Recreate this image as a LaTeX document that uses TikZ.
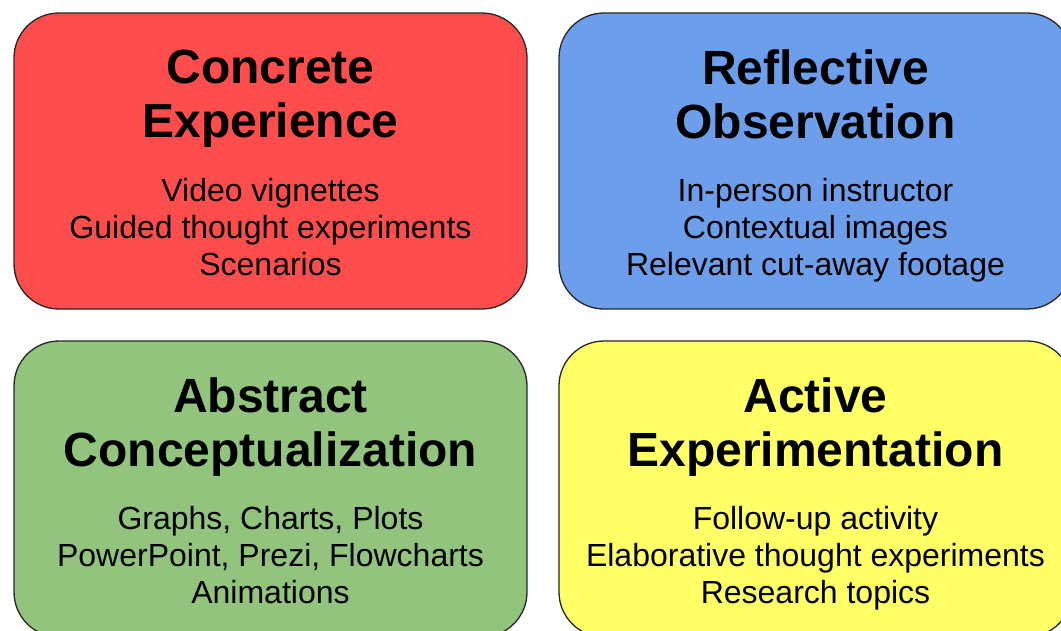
\documentclass[tikz,border=0pt]{standalone}
\usepackage{fontspec}
\setmainfont{Liberation Sans}
\usepackage{xcolor}
\usetikzlibrary{positioning}

\definecolor{cered}{HTML}{FF4D4D}
\definecolor{roblue}{HTML}{6D9EEB}
\definecolor{acgreen}{HTML}{93C47D}
\definecolor{aeyellow}{HTML}{FFFF66}

\begin{document}
\begin{tikzpicture}[
    x=1pt, y=-1pt,
    stage/.style={
        rectangle,
        rounded corners=45pt,
        draw=black!85,
        line width=1.3pt,
        minimum width=513pt,
        minimum height=296pt,
        inner sep=0pt
    },
    heading/.style={
        align=center,
        inner sep=0pt,
        font=\fontsize{48}{54}\selectfont\bfseries
    },
    items/.style={
        align=center,
        inner sep=0pt,
        font=\fontsize{32}{37}\selectfont
    }
]
\useasboundingbox (0,0) rectangle (1061,630);
\clip (0,0) rectangle (1061,630);

% the four stages of the cycle
\node[stage, fill=cered]    (ce) at (270.5,161) {};
\node[stage, fill=roblue]   (ro) at (815.5,161) {};
\node[stage, fill=acgreen]  (ac) at (270.5,489) {};
\node[stage, fill=aeyellow] (ae) at (815.5,489) {};

\node[heading, below=37pt of ce.north] (ce-title) {Concrete\\Experience};
\node[items, below=166pt of ce.north] (ce-items) {Video vignettes\\
Guided thought experiments\\
Scenarios};

\node[heading, below=37pt of ro.north] (ro-title) {Reflective\\Observation};
\node[items, below=166pt of ro.north] (ro-items) {In-person instructor\\
Contextual images\\
Relevant cut-away footage};

\node[heading, below=37pt of ac.north] (ac-title) {Abstract\\Conceptualization};
\node[items, below=166pt of ac.north] (ac-items) {Graphs, Charts, Plots\\
PowerPoint, Prezi, Flowcharts\\
Animations};

\node[heading, below=37pt of ae.north] (ae-title) {Active\\Experimentation};
\node[items, below=166pt of ae.north] (ae-items) {Follow-up activity\\
Elaborative thought experiments\\
Research topics};

\end{tikzpicture}
\end{document}
